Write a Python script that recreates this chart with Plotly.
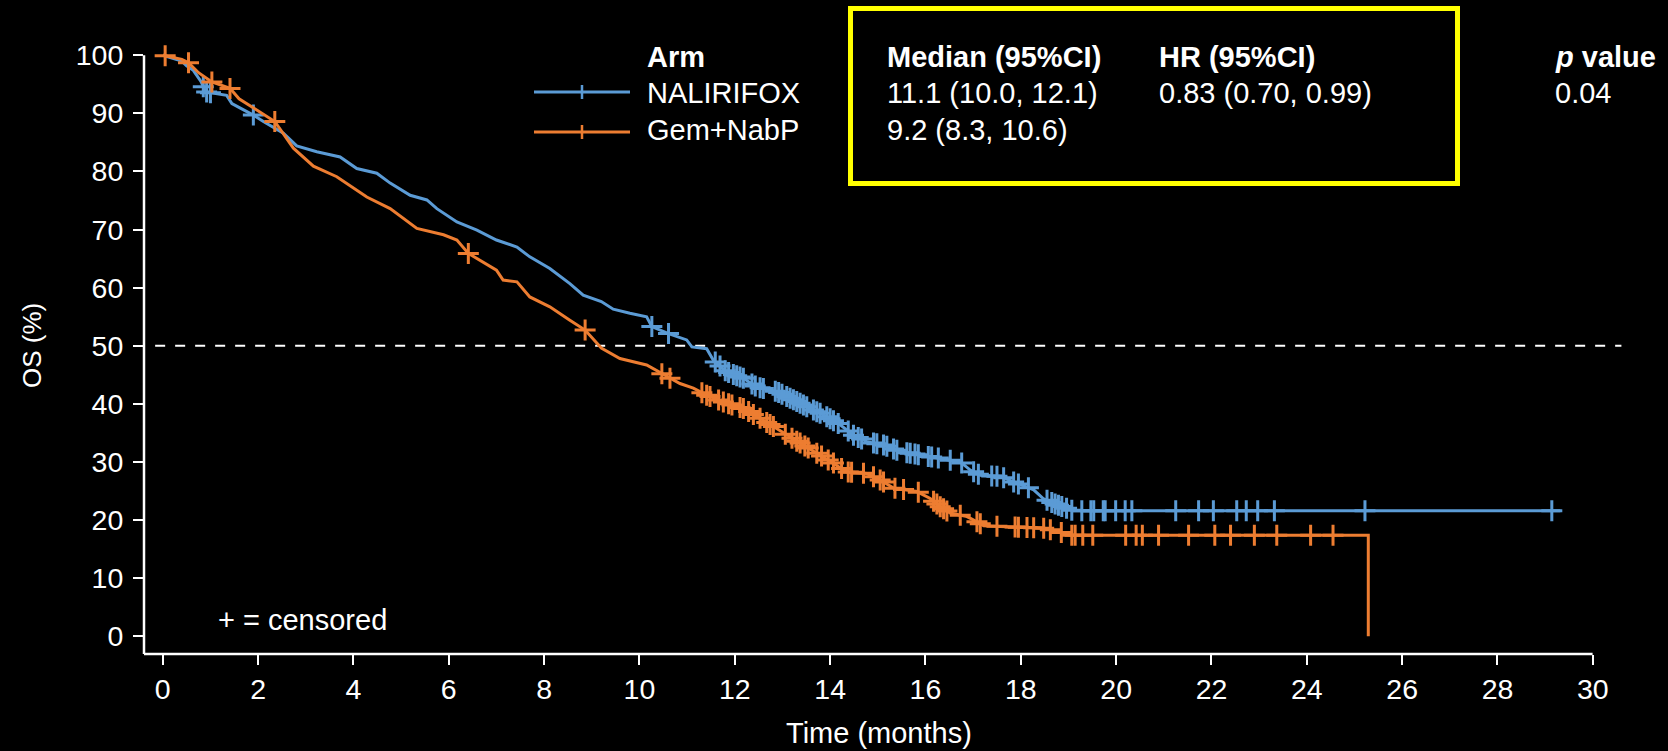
import numpy as np
import plotly.graph_objects as go

# ---- Kaplan-Meier estimates: time (months) and OS (%) along each curve ----
nal_time = [0, 0.40, 0.50, 0.64, 0.80, 0.90, 1.34, 1.45, 1.90, 2.11, 2.53, 2.81, 3.23, 3.72,
            4.07, 4.49, 4.77, 5.19, 5.54, 5.75, 6.17, 6.59, 7.00, 7.43, 7.70, 8.12, 8.54, 8.82,
            9.20, 9.45, 9.80, 10.15, 10.26, 10.61, 10.99, 11.10, 11.41, 11.55, 11.83, 12.18,
            12.46, 12.88, 13.23, 13.58, 13.93, 14.21, 14.49, 14.77, 15.12, 15.47, 15.89, 16.31,
            16.73, 16.94, 17.15, 17.57, 17.92, 18.27, 18.47, 18.68, 19.10, 29.32]
nal_surv = [100, 99.0, 98.2, 97.4, 95.5, 93.7, 93.1, 91.7, 89.7, 88.6, 86.6, 84.4, 83.4, 82.5,
            80.5, 79.7, 78.0, 75.9, 75.1, 73.6, 71.3, 69.9, 68.2, 67.0, 65.3, 63.3, 60.7, 58.7,
            57.6, 56.3, 55.6, 55.0, 53.3, 52.1, 51.0, 49.8, 49.5, 47.5, 45.5, 44.4,
            42.9, 42.1, 40.7, 39.2, 37.8, 36.4, 34.6, 33.5, 32.9, 31.8, 31.2, 30.6,
            30.0, 28.6, 27.7, 27.5, 26.3, 25.2, 23.7, 22.9, 21.6, 21.6]
nal_censored = [0.85, 0.92, 1.00, 1.90, 10.26, 10.61, 11.59, 11.69, 11.80, 11.87, 11.97, 12.04,
                12.11, 12.18, 12.36, 12.43, 12.53, 12.60, 12.85, 12.92, 12.99, 13.09, 13.16,
                13.23, 13.30, 13.37, 13.44, 13.51, 13.65, 13.72, 13.79, 13.93, 14.00, 14.07,
                14.17, 14.38, 14.49, 14.59, 14.66, 14.91, 14.98, 15.12, 15.19, 15.33, 15.40,
                15.61, 15.68, 15.78, 15.85, 16.06, 16.13, 16.27, 16.52, 16.76, 17.01, 17.11,
                17.39, 17.50, 17.64, 17.85, 17.95, 18.16, 18.55, 18.65, 18.72, 18.79, 18.86,
                18.96, 19.07, 19.28, 19.47, 19.53, 19.73, 19.77, 19.99, 20.19, 20.33, 21.25,
                21.73, 22.04, 22.53, 22.73, 22.97, 23.32, 25.22, 29.14]

gem_time = [0, 0.40, 0.54, 0.75, 1.03, 1.41, 1.60, 1.90, 2.35, 2.74, 3.16, 3.65, 4.28, 4.77,
            5.33, 5.89, 6.17, 6.41, 7.00, 7.14, 7.43, 7.70, 8.12, 8.54, 8.86, 9.20, 9.59, 10.15,
            10.64, 10.85, 11.13, 11.41, 11.83, 12.18, 12.53, 12.81, 13.09, 13.44, 13.72, 14.07,
            14.35, 14.77, 15.05, 15.33, 15.82, 16.10, 16.31, 16.52, 16.87, 17.08, 17.22, 18.50,
            19.05, 25.29, 25.29]
gem_surv = [100, 99.3, 98.7, 97.0, 95.4, 94.3, 92.5, 90.9, 88.6, 84.0, 80.9, 79.1, 75.6, 73.6,
            70.2, 69.1, 68.2, 65.9, 63.0, 61.3, 61.0, 58.4, 56.7, 54.4, 52.7, 49.6, 47.8, 46.7,
            44.4, 43.5, 42.7, 41.5, 40.1, 39.2, 37.5, 36.1, 34.6, 32.9, 31.5, 29.8,
            28.3, 28.0, 26.9, 25.5, 24.9, 23.7, 22.3, 21.2, 20.6, 19.7, 19.0, 18.6,
            17.4, 17.4, 0]
gem_censored = [0.05, 0.54, 1.03, 1.41, 2.35, 6.41, 8.86, 10.47, 10.64, 11.31, 11.41, 11.48,
                11.66, 11.76, 11.87, 11.94, 12.11, 12.18, 12.29, 12.39, 12.53, 12.67, 12.74,
                12.81, 13.06, 13.20, 13.30, 13.37, 13.47, 13.54, 13.72, 13.82, 13.96, 14.07,
                14.24, 14.38, 14.45, 14.70, 14.91, 15.05, 15.12, 15.36, 15.54, 15.85, 16.17,
                16.24, 16.31, 16.38, 16.45, 16.73, 17.08, 17.15, 17.50, 17.88, 17.95, 18.13,
                18.27, 18.48, 18.62, 18.85, 19.07, 19.14, 19.30, 19.51, 20.20, 20.42, 20.55,
                20.89, 21.52, 22.07, 22.40, 22.90, 23.37, 24.08, 24.55]

x_ticks = list(range(0, 31, 2))
y_ticks = list(range(0, 101, 10))

arm_names = ["NALIRIFOX", "Gem+NabP"]
median_ci = ["11.1 (10.0, 12.1)", "9.2 (8.3, 10.6)"]
hr_ci = "0.83 (0.70, 0.99)"
p_val = "0.04"

BLUE = "#5B9BD5"
ORANGE = "#ED7D31"
WHITE = "#FFFFFF"
FONT = "Liberation Sans, Arial, sans-serif"
FS_TEXT = 29
FS_TICK = 28.5

# ---- canvas geometry (pixels) ----
W, H = 1668, 751
L, R, T, B = 144, 28, 40, 97
X_RANGE = [-0.394, 30.99]
Y_RANGE = [-3.06, 102.63]


def px_x(px):
    return (px - L) / (W - L - R)


def px_y(py):
    return (H - B - py) / (H - T - B)


def level_at(times, surv, t):
    return np.interp(np.asarray(t), np.asarray(times)[:-1], np.asarray(surv)[:-1])


fig = go.Figure()

for name, tt, ss, cc, col in [
    (arm_names[0], nal_time, nal_surv, nal_censored, BLUE),
    (arm_names[1], gem_time, gem_surv, gem_censored, ORANGE),
]:
    fig.add_trace(go.Scatter(
        x=tt, y=ss, mode="lines", name=name, line=dict(color=col, width=3),
        showlegend=False, hoverinfo="skip"))
    fig.add_trace(go.Scatter(
        x=cc, y=level_at(tt, ss, cc), mode="markers", showlegend=False, hoverinfo="skip",
        marker=dict(symbol="cross-thin", size=15, line=dict(color=col, width=3)),
        cliponaxis=False))

shapes = []
# median reference line
shapes.append(dict(type="line", xref="x", yref="y", x0=-0.16, x1=30.6, y0=50, y1=50,
                   line=dict(color=WHITE, width=2, dash="10px,10px"), layer="below"))
# axis lines
shapes.append(dict(type="line", xref="paper", yref="y", x0=0, x1=0, y0=100, y1=Y_RANGE[0],
                   line=dict(color=WHITE, width=2.5)))
shapes.append(dict(type="line", xref="paper", yref="paper", x0=0, x1=px_x(162.8 + 47.66 * 30),
                   y0=0, y1=0, line=dict(color=WHITE, width=2.5)))
# statistics box
shapes.append(dict(type="rect", xref="paper", yref="paper",
                   x0=px_x(850.5), x1=px_x(1457.5), y0=px_y(183.5), y1=px_y(8.5),
                   line=dict(color="#FFFF00", width=5)))
# legend samples
for yy, col in [(92, BLUE), (132, ORANGE)]:
    shapes.append(dict(type="line", xref="paper", yref="paper", x0=px_x(534), x1=px_x(630),
                       y0=px_y(yy), y1=px_y(yy), line=dict(color=col, width=3)))
    shapes.append(dict(type="line", xref="paper", yref="paper", x0=px_x(582), x1=px_x(582),
                       y0=px_y(yy - 7), y1=px_y(yy + 7), line=dict(color=col, width=2.5)))

ann = []


def text(x, y, s, size=FS_TEXT, **kw):
    ann.append(dict(xref="paper", yref="paper", x=px_x(x), y=px_y(y), text=s, showarrow=False,
                    xanchor=kw.get("xanchor", "left"), yanchor="middle",
                    font=dict(family=FONT, size=size, color=WHITE),
                    textangle=kw.get("angle", 0)))


text(645, 57, "<b>Arm</b>")
text(645, 93, arm_names[0])
text(645, 130, arm_names[1])
text(885, 57, "<b>Median (95%CI)</b>")
text(885, 93, median_ci[0])
text(885, 130, median_ci[1])
text(1157, 57, "<b>HR (95%CI)</b>")
text(1157, 93, hr_ci)
text(1553, 57, "<b><i>p</i> value</b>")
text(1553, 93, p_val)
text(216, 620, "+ = censored")
text(879, 733, "Time (months)", xanchor="center")
text(32, 346, "OS (%)", size=26, xanchor="center", angle=-90)

fig.update_layout(
    width=W, height=H,
    margin=dict(l=L, r=R, t=T, b=B, pad=0),
    paper_bgcolor="#000000", plot_bgcolor="#000000",
    showlegend=False,
    shapes=shapes, annotations=ann,
    font=dict(family=FONT, size=FS_TICK, color=WHITE),
    xaxis=dict(range=X_RANGE, tickvals=x_ticks, ticktext=[str(v) for v in x_ticks],
               showgrid=False, zeroline=False, showline=False,
               ticks="outside", ticklen=10, tickwidth=2, tickcolor=WHITE,
               tickfont=dict(family=FONT, size=FS_TICK, color=WHITE)),
    yaxis=dict(range=Y_RANGE, tickvals=y_ticks, ticktext=[str(v) for v in y_ticks],
               showgrid=False, zeroline=False, showline=False,
               ticks="outside", ticklen=10, tickwidth=2, tickcolor=WHITE,
               ticklabelstandoff=4,
               tickfont=dict(family=FONT, size=FS_TICK, color=WHITE)),
)

fig.write_html("out.html")
